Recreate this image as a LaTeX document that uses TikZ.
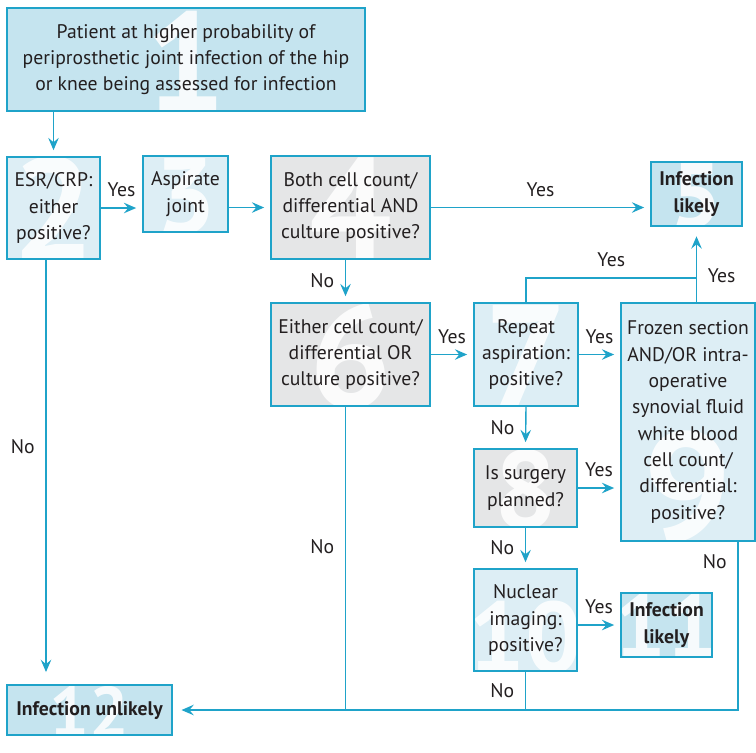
\documentclass[tikz,border=0pt]{standalone}
\usepackage{fontspec}
\setmainfont{PT Sans}
\usetikzlibrary{arrows.meta}
\definecolor{lineblue}{HTML}{1FA3C9}
\definecolor{darkfill}{HTML}{C5E4EF}
\definecolor{lightfill}{HTML}{DDEEF5}
\definecolor{grayfill}{HTML}{E5E6E7}
\definecolor{textgray}{HTML}{231F20}
\begin{document}
\begin{tikzpicture}[x=0.02cm, y=-0.02cm,
  font=\fontsize{11.2}{15}\selectfont, text=textgray,
  box/.style={rectangle, draw=lineblue, line width=0.8pt, align=center, inner sep=2pt},
  darkbox/.style={box, fill=darkfill},
  lightbox/.style={box, fill=lightfill},
  graybox/.style={box, fill=grayfill},
  boldtext/.style={font=\fontsize{11.2}{15}\selectfont\bfseries},
  wm/.style 2 args={path picture={\node[anchor=base, inner sep=0pt, text=white, text opacity=0.85, font=\fontsize{#2}{#2}\selectfont\bfseries] at ([yshift=-1pt]path picture bounding box.south) {#1};}},
  arr/.style={-{Stealth[length=7pt, width=6pt, inset=2.5pt]}, draw=lineblue, line width=0.8pt, shorten >=3.5pt},
  conn/.style={draw=lineblue, line width=0.8pt},
  lbl/.style={inner sep=6pt},
]
\useasboundingbox (0,0) rectangle (756,752);
% nodes
\node[darkbox, wm={1}{81pt}, minimum width=7.16cm, minimum height=2.06cm] (patient) at (186,59.5) {Patient at higher probability of\\periprosthetic joint infection of the hip\\or knee being assessed for infection};
\node[lightbox, wm={2}{83pt}, minimum width=1.86cm, minimum height=2.04cm] (esrcrp) at (53.5,208) {ESR/CRP:\\either\\positive?};
\node[lightbox, wm={3}{61pt}, minimum width=1.70cm, minimum height=1.52cm] (aspirate) at (185.5,194) {Aspirate\\joint};
\node[graybox, wm={4}{83pt}, minimum width=3.18cm, minimum height=2.06cm] (bothpos) at (350.5,207.5) {Both cell count/\\differential AND\\culture positive?};
\node[darkbox, boldtext, wm={5}{52pt}, minimum width=1.82cm, minimum height=1.28cm] (likelya) at (696.5,194) {Infection\\likely};
\node[graybox, wm={6}{83pt}, minimum width=3.18cm, minimum height=2.06cm] (eitherpos) at (350.5,354.5) {Either cell count/\\differential OR\\culture positive?};
\node[lightbox, wm={7}{83pt}, minimum width=2.08cm, minimum height=2.06cm] (repeat) at (526,354.5) {Repeat\\aspiration:\\positive?};
\node[graybox, wm={8}{63pt}, minimum width=2.06cm, minimum height=1.56cm] (surgery) at (525.5,488) {Is surgery\\planned?};
\node[lightbox, wm={9}{89pt}, minimum width=2.68cm, minimum height=4.76cm] (frozen) at (688,422) {Frozen section\\AND/OR intra-\\operative\\synovial fluid\\white blood\\cell count/\\differential:\\positive?};
\node[lightbox, wm={10}{57pt}, minimum width=2.06cm, minimum height=2.04cm] (nuclear) at (525.5,620) {Nuclear\\imaging:\\positive?};
\node[darkbox, boldtext, wm={11}{52pt}, minimum width=1.82cm, minimum height=1.28cm] (likelyb) at (666.5,625) {Infection\\likely};
\node[darkbox, boldtext, wm={12}{40pt}, minimum width=3.30cm, minimum height=1.00cm] (unlikely) at (89.5,710) {Infection unlikely};
% edges
\draw[arr] (patient.south -| esrcrp.north) -- (esrcrp.north);
\draw[arr] (esrcrp.east) -- node[lbl, above] {Yes} (esrcrp.east -| aspirate.west);
\draw[arr] (aspirate.east |- bothpos.west) -- (bothpos.west);
\draw[arr] (bothpos.east) -- node[lbl, above] {Yes} (bothpos.east -| likelya.west);
\draw[arr] ([xshift=-0.1cm]bothpos.south) -- node[lbl, left] {No} ([xshift=-0.1cm]eitherpos.north);
\draw[arr] (eitherpos.east) -- node[lbl, above] {Yes} (repeat.west);
\draw[arr] (repeat.east) -- node[lbl, above] {Yes} (repeat.east -| frozen.west);
\draw[arr] (repeat.south) -- node[lbl, left] {No} (surgery.north);
\draw[arr] (surgery.east) -- node[lbl, above] {Yes} (surgery.east -| frozen.west);
\draw[arr] (surgery.south) -- node[lbl, left] {No} (nuclear.north);
\draw[arr] (nuclear.east |- likelyb.west) -- node[lbl, above] {Yes} (likelyb.west);
\coordinate (yesjoin) at (696.5,278);
\draw[conn] (repeat.north) |- node[lbl, above, pos=0.75] {Yes} (yesjoin);
\draw[arr, shorten >=5.5pt] (frozen.north -| likelya.south) -- node[lbl, right, pos=0.35] {Yes} (likelya.south);
\draw[arr, shorten >=7pt] ([xshift=-0.15cm]esrcrp.south) -- node[lbl, left, pos=0.44] {No} ([xshift=-0.15cm]esrcrp.south |- unlikely.north);
\draw[arr, shorten >=5pt] ([xshift=1cm]frozen.south) |- node[lbl, left, pos=0.06] {No} (unlikely.east);
\draw[conn] ([xshift=-0.1cm]eitherpos.south) -- node[lbl, left, pos=0.46] {No} ([xshift=-0.1cm]eitherpos.south |- unlikely.east);
\draw[conn] (nuclear.south) -- node[lbl, left] {No} (nuclear.south |- unlikely.east);
\end{tikzpicture}
\end{document}
